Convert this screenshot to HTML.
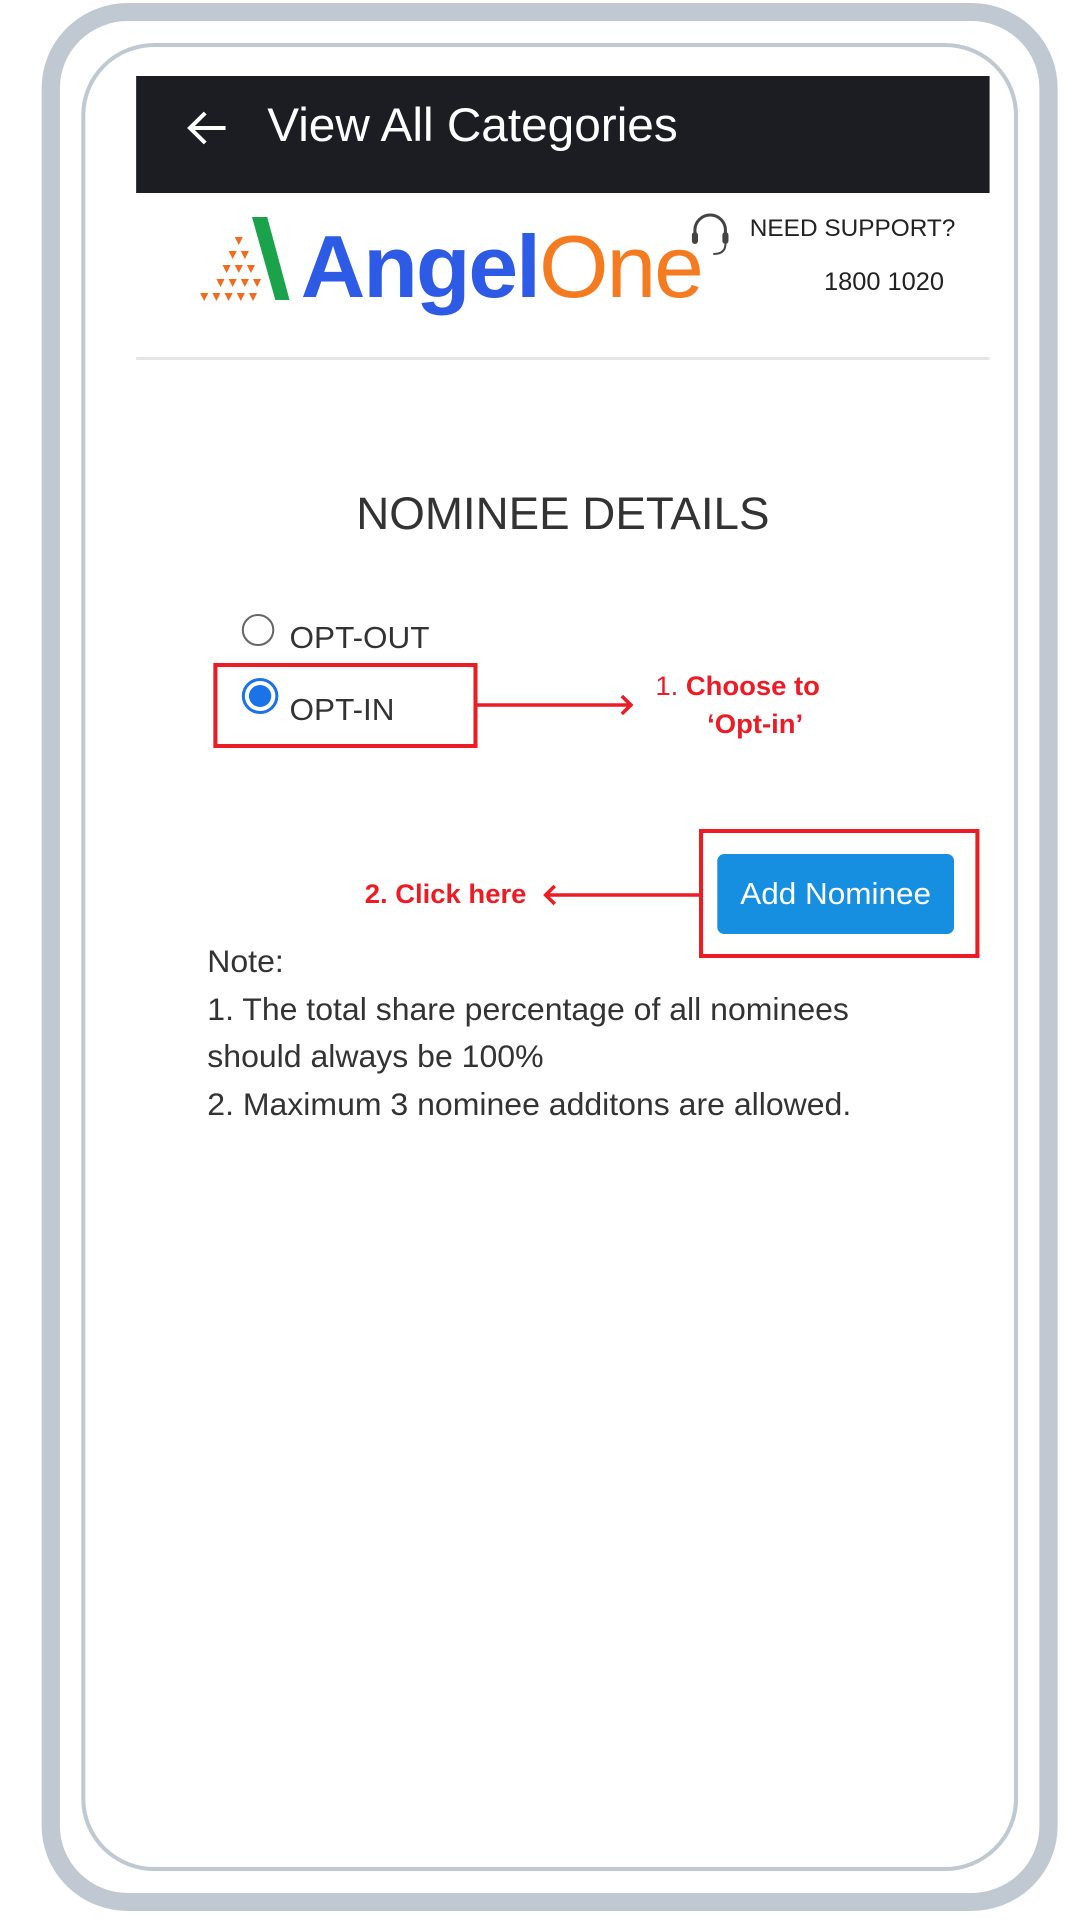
<!DOCTYPE html>
<html><head><meta charset="utf-8"><style>
html,body{margin:0;padding:0;background:#fff}
body{width:1080px;height:1920px;position:relative;overflow:hidden;font-family:"Liberation Sans",sans-serif}
#w{position:absolute;left:0;top:0;width:1080px;height:1920px;transform:scaleX(1.016);transform-origin:0 0}
.a{position:absolute;white-space:nowrap}
</style></head><body><div id="w">
<div class="a" style="left:41px;top:3px;width:1000px;height:1908px;box-sizing:border-box;border:18px solid #c0c9d1;border-radius:85px"></div>
<div class="a" style="left:80px;top:43px;width:922px;height:1828px;box-sizing:border-box;border:4px solid #c0c9d1;border-radius:72px"></div>
<div class="a" style="left:134px;top:76px;width:840px;height:117px;background:#1b1d23"></div>
<svg class="a" style="left:180px;top:108px" width="48" height="40"><path d="M42 20H8M22 5L7 20L22 35" stroke="#fff" stroke-width="4" fill="none"/></svg>
<div class="a" style="left:263px;top:98px;font-size:47px;color:#fff;line-height:54px">View All Categories</div>
<svg class="a" style="left:193px;top:215px" width="95" height="90">
<polygon points="55,2 70,2 92,85 78,85" fill="#1aa34a"/>
<g fill="#f26a1b">
<polygon points="38,22 46,22 42,30"/><polygon points="32,36 40,36 36,44"/><polygon points="44,36 52,36 48,44"/>
<polygon points="26,50 34,50 30,58"/><polygon points="38,50 46,50 42,58"/><polygon points="50,50 58,50 54,58"/>
<polygon points="20,64 28,64 24,72"/><polygon points="32,64 40,64 36,72"/><polygon points="44,64 52,64 48,72"/><polygon points="56,64 64,64 60,72"/>
<polygon points="4,78 12,78 8,86"/><polygon points="16,78 24,78 20,86"/><polygon points="28,78 36,78 32,86"/><polygon points="40,78 48,78 44,86"/><polygon points="52,78 60,78 56,86"/>
</g></svg>
<div class="a" style="left:296px;top:212px;font-size:88px;font-weight:bold;line-height:110px;letter-spacing:-2px"><span style="color:#2d5be6">Angel</span><span style="color:#f47b20;font-weight:normal">One</span></div>
<svg class="a" style="left:676px;top:210px" width="46" height="48"><path d="M8 28V20a15 15 0 0 1 30 0v8" stroke="#444" stroke-width="3" fill="none"/><rect x="5" y="22" width="6" height="12" rx="3" fill="#444"/><rect x="35" y="22" width="6" height="12" rx="3" fill="#444"/><path d="M38 34q0 10-12 10" stroke="#444" stroke-width="2" fill="none"/></svg>
<div class="a" style="left:738px;top:213px;font-size:24px;color:#222;line-height:32px">NEED SUPPORT?</div>
<div class="a" style="left:811px;top:266px;font-size:25px;color:#222;line-height:32px">1800 1020</div>
<div class="a" style="left:134px;top:357px;width:840px;height:3px;background:#e6e6e6"></div>
<div class="a" style="left:0;width:1108px;text-align:center;top:486px;font-size:45px;color:#333;line-height:56px">NOMINEE DETAILS</div>
<div class="a" style="left:238px;top:614px;width:32px;height:32px;box-sizing:border-box;border:2px solid #666;border-radius:50%"></div>
<div class="a" style="left:285px;top:619px;font-size:31px;color:#333;line-height:38px">OPT-OUT</div>
<div class="a" style="left:238px;top:678px;width:36px;height:36px;box-sizing:border-box;border:3px solid #1a73e8;border-radius:50%;background:#fff"><div style="margin:4px;width:22px;height:22px;border-radius:50%;background:#1a73e8"></div></div>
<div class="a" style="left:285px;top:691px;font-size:31px;color:#333;line-height:38px">OPT-IN</div>
<div class="a" style="left:210px;top:663px;width:260px;height:85px;box-sizing:border-box;border:4px solid #ed1c24"></div>
<svg class="a" style="left:468px;top:690px" width="160" height="30"><path d="M0 15H153M144 6l9 9-9 9" stroke="#ed1c24" stroke-width="3.5" fill="none"/></svg>
<div class="a" style="left:645px;top:670px;font-size:27px;color:#ed1c24;line-height:32px">1. <b>Choose to</b></div>
<div class="a" style="left:696px;top:708px;font-size:27px;color:#ed1c24;font-weight:bold;line-height:32px">‘Opt-in’</div>
<div class="a" style="left:688px;top:829px;width:276px;height:129px;box-sizing:border-box;border:4px solid #ed1c24"></div>
<div class="a" style="left:706px;top:854px;width:233px;height:80px;background:#168fe0;border-radius:7px;color:#fff;font-size:31px;line-height:80px;text-align:center">Add Nominee</div>
<svg class="a" style="left:532px;top:880px" width="160" height="30"><path d="M158 15H5M14 6l-9 9 9 9" stroke="#ed1c24" stroke-width="3.5" fill="none"/></svg>
<div class="a" style="left:359px;top:878px;font-size:27px;color:#ed1c24;font-weight:bold;line-height:32px">2. Click here</div>
<div class="a" style="left:204px;top:938px;font-size:31.5px;color:#333;line-height:47.5px">Note:<br>1. The total share percentage of all nominees<br>should always be 100%<br>2. Maximum 3 nominee additons are allowed.</div>
</div></body></html>
